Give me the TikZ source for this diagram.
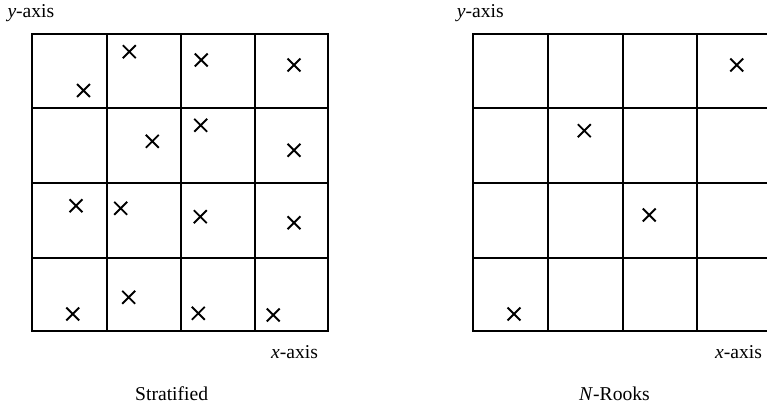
\documentclass[tikz,border=0pt]{standalone}
\usepackage{fontspec}
\setmainfont{Liberation Serif}
\usetikzlibrary{shapes.misc}
\begin{document}
\begin{tikzpicture}[x=1pt,y=-1pt,
  gridline/.style={line width=2pt, line cap=rect},
  xmark/.style={cross out, draw, minimum size=11pt, inner sep=0pt, line width=1.9pt},
  lbl/.style={font=\fontsize{19.6}{22}\selectfont, inner sep=0pt, anchor=base west}]
\useasboundingbox (0,0) rectangle (767,404);
\clip (0,0) rectangle (767,404);
% left grid
\draw[gridline] (31.7,34.3) rectangle (327.7,330.7);
\foreach \x in {106.7,181,255} \draw[gridline] (\x,34.3) -- (\x,330.7);
\foreach \y in {108.3,183,257.7} \draw[gridline] (31.7,\y) -- (327.7,\y);
% right grid
\draw[gridline] (472.7,34.3) rectangle (771,330.7);
\foreach \x in {548.3,622.7,697} \draw[gridline] (\x,34.3) -- (\x,330.7);
\foreach \y in {108.3,183,257.7} \draw[gridline] (472.7,\y) -- (771,\y);
% stratified samples
\node[xmark] (s11) at (83.5,90.5) {};
\node[xmark] (s12) at (129.3,51.7) {};
\node[xmark] (s13) at (201.3,60) {};
\node[xmark] (s14) at (294,65) {};
\node[xmark] (s22) at (152.3,141.3) {};
\node[xmark] (s23) at (200.7,125.3) {};
\node[xmark] (s24) at (294,150.3) {};
\node[xmark] (s31) at (76,205.7) {};
\node[xmark] (s32) at (120.7,208.3) {};
\node[xmark] (s33) at (200.3,216.7) {};
\node[xmark] (s34) at (294,222.7) {};
\node[xmark] (s41) at (72.7,314) {};
\node[xmark] (s42) at (128.7,297.3) {};
\node[xmark] (s43) at (198.3,313.3) {};
\node[xmark] (s44) at (273.3,315) {};
% n-rooks samples
\node[xmark] (r1) at (736.7,65) {};
\node[xmark] (r2) at (584.3,130.7) {};
\node[xmark] (r3) at (649.3,215) {};
\node[xmark] (r4) at (514,314) {};
% labels
\node[lbl] (ly1) at (7.3,17.3) {\textit{y}-axis};
\node[lbl] (ly2) at (456.7,17.3) {\textit{y}-axis};
\node[lbl] (lx1) at (271,358.3) {\textit{x}-axis};
\node[lbl] (lx2) at (715,358.3) {\textit{x}-axis};
\node[lbl] (cap1) at (135,400.5) {Stratified};
\node[lbl] (cap2) at (579,400.5) {\textit{N}-Rooks};
\end{tikzpicture}
\end{document}
